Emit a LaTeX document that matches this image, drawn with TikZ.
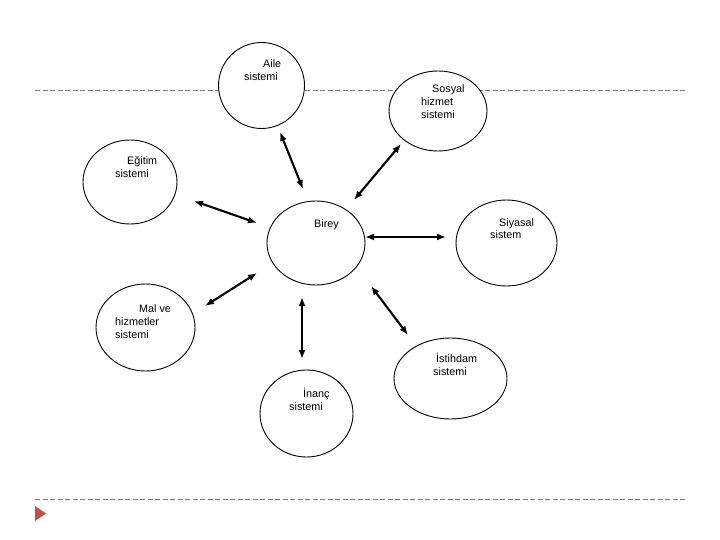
\documentclass[tikz,border=0pt]{standalone}
\usepackage{fontspec}
\setmainfont{Liberation Sans}
\usetikzlibrary{arrows.meta,shapes.geometric}
\definecolor{dashcol}{RGB}{150,110,120}
\definecolor{markred}{RGB}{192,80,77}
\tikzset{
  sys/.style={draw=black, line width=0.9pt, fill=white, ellipse, inner sep=0pt},
  lbl/.style={anchor=base west, inner sep=0pt, font=\fontsize{10.8}{13}\selectfont},
  link/.style={line width=2.1pt, {Latex[length=9pt,width=7pt]}-{Latex[length=9pt,width=7pt]}},
  rule/.style={draw=dashcol, line width=0.9pt, dash pattern=on 5pt off 2.5pt}
}
\begin{document}
\begin{tikzpicture}[x=1pt, y=-1pt]
\useasboundingbox (0,0) rectangle (720,540);
% dashed rules
\coordinate (t1) at (35,90); \coordinate (t2) at (685,90);
\coordinate (b1) at (35,499); \coordinate (b2) at (685,499);
\draw[rule] (t1) -- (t2);
\draw[rule] (b1) -- (b2);
% marker
\fill[markred] (35,506) -- (46,513.5) -- (35,521) -- cycle;
% ellipses
\node[sys, minimum width=86pt, minimum height=86pt] (aile) at (261.5,85.5) {};
\node[sys, minimum width=98pt, minimum height=80pt] (sosyal) at (438,111) {};
\node[sys, minimum width=94pt, minimum height=84pt] (egitim) at (130,182) {};
\node[sys, minimum width=98pt, minimum height=84pt] (birey) at (316,243) {};
\node[sys, minimum width=101pt, minimum height=86pt] (siyasal) at (506.5,243) {};
\node[sys, minimum width=99pt, minimum height=87pt] (mal) at (145.5,327.5) {};
\node[sys, minimum width=113pt, minimum height=81pt] (istihdam) at (450.5,378.5) {};
\node[sys, minimum width=93pt, minimum height=87pt] (inanc) at (306.5,413.5) {};
% labels
\node[lbl] (aile-t) at (244,68) {\parbox[t]{60pt}{\hspace*{19pt}Aile\\sistemi}};
\node[lbl] (sosyal-t) at (421,93) {\parbox[t]{60pt}{\hspace*{11pt}Sosyal\\hizmet\\sistemi}};
\node[lbl] (egitim-t) at (115,165) {\parbox[t]{60pt}{\hspace*{12pt}Eğitim\\sistemi}};
\node[lbl] (birey-t) at (314,227) {Birey};
\node[lbl] (siyasal-t) at (490,226) {\parbox[t]{60pt}{\hspace*{9pt}Siyasal\\sistem}};
\node[lbl] (mal-t) at (115,312) {\parbox[t]{60pt}{\hspace*{24pt}Mal ve\\hizmetler\\sistemi}};
\node[lbl] (istihdam-t) at (433,362) {\parbox[t]{60pt}{\hspace*{3pt}İstihdam\\sistemi}};
\node[lbl] (inanc-t) at (289,397) {\parbox[t]{60pt}{\hspace*{14pt}İnanç\\sistemi}};
% arrow end points
\coordinate (a1) at (280,132); \coordinate (a2) at (303,189);
\coordinate (s1) at (401,144); \coordinate (s2) at (354,200);
\coordinate (e1) at (194,201); \coordinate (e2) at (257,223);
\coordinate (y1) at (365,237); \coordinate (y2) at (446,237);
\coordinate (m1) at (205,306); \coordinate (m2) at (257,273);
\coordinate (n1) at (302,297); \coordinate (n2) at (302,359);
\coordinate (i1) at (371,286); \coordinate (i2) at (408,335);
\draw[link] (a1) -- (a2);
\draw[link] (s1) -- (s2);
\draw[link] (e1) -- (e2);
\draw[link] (y1) -- (y2);
\draw[link] (m1) -- (m2);
\draw[link] (n1) -- (n2);
\draw[link] (i1) -- (i2);
\end{tikzpicture}
\end{document}
